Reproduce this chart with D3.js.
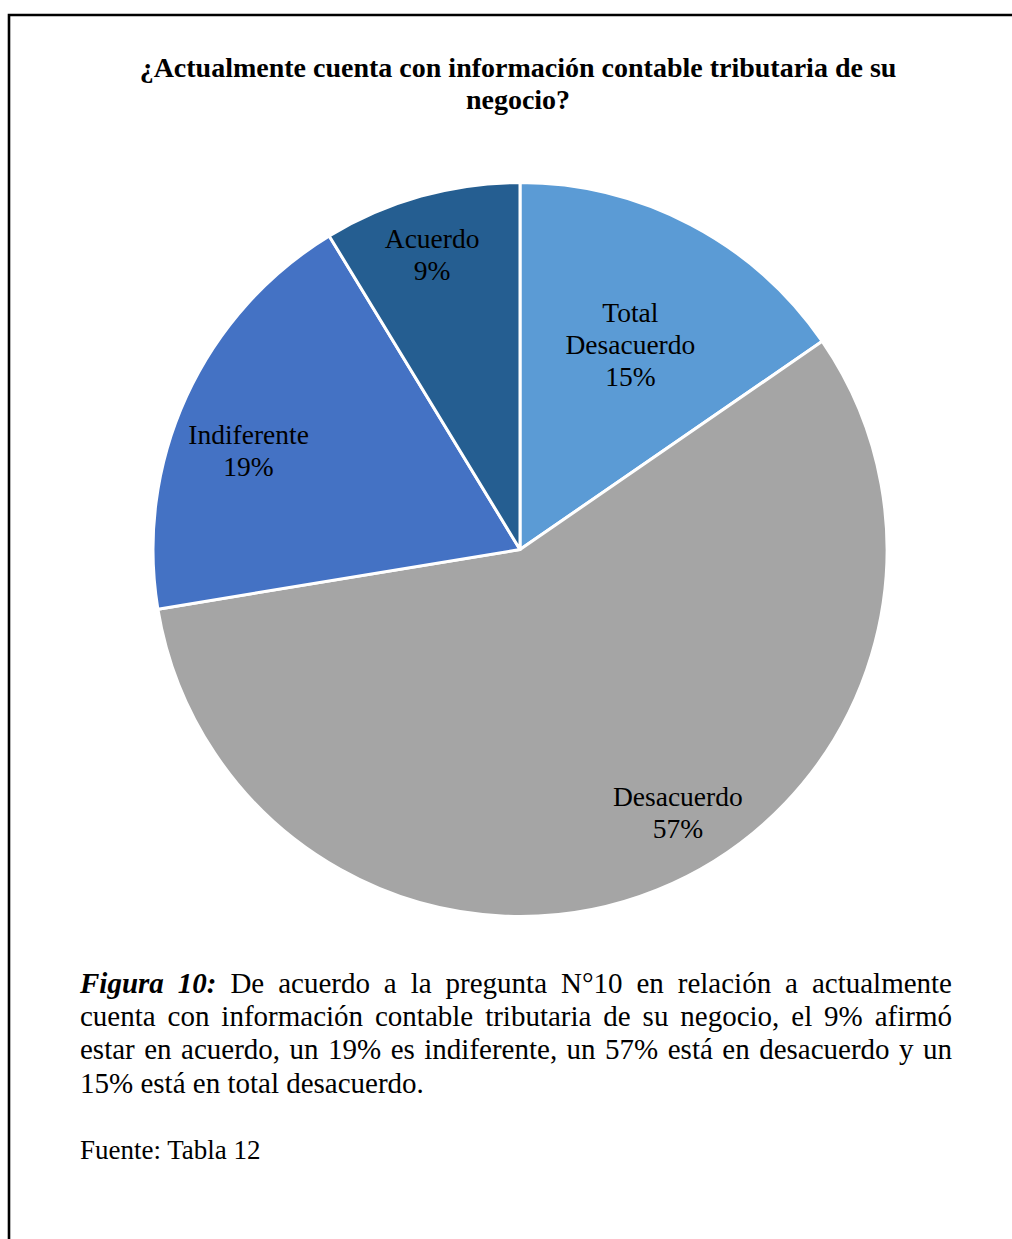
<!DOCTYPE html>
<html>
<head>
<meta charset="utf-8">
<script src="https://cdn.jsdelivr.net/npm/d3@7"></script>
<style>
  html, body { margin: 0; padding: 0; background: #fff; }
  svg { display: block; }
  text { font-family: "Liberation Serif", "Times New Roman", serif; fill: #000; }
</style>
</head>
<body>
<svg id="chart" width="1012" height="1239"></svg>
<script>
// ---- data ----
const categories = ["Total Desacuerdo", "Desacuerdo", "Indiferente", "Acuerdo"];
const values = [15.4, 57.0, 18.9, 8.7];
const colors = ["#5B9BD5", "#A5A5A5", "#4472C4", "#255E91"];
const titleLines = ["¿Actualmente cuenta con información contable tributaria de su", "negocio?"];
const captionLead = "Figura 10:";
const captionText = "De acuerdo a la pregunta N°10 en relación a actualmente cuenta con información contable tributaria de su negocio, el 9% afirmó estar en acuerdo, un 19% es indiferente, un 57% está en desacuerdo y un 15% está en total desacuerdo.";
const sourceText = "Fuente: Tabla 12";

// ---- layout ----
const W = 1012, H = 1239;
const cx = 520, cy = 549.5, R = 367;
// label placement: fraction of radius and angle tweak (degrees) per slice
const labelLayout = [
  { k: 0.634, dAng: 0.6 },
  { k: 0.836, dAng: -9 },
  { k: 0.787, dAng: -4.7 },
  { k: 0.84, dAng: -0.9 }
];

const svg = d3.select("#chart");

// frame
svg.append("path")
  .attr("d", `M9,${H} L9,15 L${W},15`)
  .attr("fill", "none")
  .attr("stroke", "#000")
  .attr("stroke-width", 2.6);

// title
const title = svg.append("text")
  .attr("text-anchor", "middle")
  .attr("font-weight", "bold")
  .attr("font-size", 28);
titleLines.forEach((t, i) => {
  title.append("tspan").attr("x", 518).attr("y", 77 + i * 32).text(t);
});

// pie
const pie = d3.pie().sort(null).value(d => d);
const arcs = pie(values);
const arc = d3.arc().innerRadius(0).outerRadius(R);
const g = svg.append("g").attr("transform", `translate(${cx},${cy})`);

g.selectAll("path.slice")
  .data(arcs)
  .join("path")
  .attr("class", "slice")
  .attr("d", arc)
  .attr("fill", (d, i) => colors[i])
  .attr("stroke", "#fff")
  .attr("stroke-width", 3)
  .attr("stroke-linejoin", "round");

const total = d3.sum(values);
const fmt = v => Math.round(v / total * 100) + "%";

g.selectAll("text.lbl")
  .data(arcs)
  .join("text")
  .attr("class", "lbl")
  .attr("text-anchor", "middle")
  .attr("font-size", 27.5)
  .each(function (d, i) {
    const L = labelLayout[i];
    const a = (d.startAngle + d.endAngle) / 2 + L.dAng * Math.PI / 180;
    const x = Math.sin(a) * R * L.k;
    const y = -Math.cos(a) * R * L.k;
    const words = categories[i] === "Total Desacuerdo" ? ["Total", "Desacuerdo"] : [categories[i]];
    const lines = words.concat([fmt(d.data)]);
    const lh = 32;
    const y0 = y - (lines.length - 1) * lh / 2 + 9.5;
    const t = d3.select(this);
    lines.forEach((ln, j) => {
      t.append("tspan").attr("x", x).attr("y", y0 + j * lh).text(ln);
    });
  });

// caption (justified)
const capX0 = 80, capX1 = 952, capFont = 29, capLH = 33.4, capY0 = 992.5;
const measure = svg.append("text").attr("font-size", capFont).attr("visibility", "hidden");
function wordWidth(w, bold) {
  measure.attr("font-weight", bold ? "bold" : "normal").attr("font-style", bold ? "italic" : "normal").text(w);
  return measure.node().getComputedTextLength();
}
const spaceW = wordWidth("a b") - wordWidth("ab");
const words = captionLead.split(" ").map(w => ({ w, b: true }))
  .concat(captionText.split(" ").map(w => ({ w, b: false })));
words.forEach(o => o.width = wordWidth(o.w, o.b));
const lines = [];
let cur = [], curW = 0;
words.forEach(o => {
  const add = cur.length ? spaceW + o.width : o.width;
  if (curW + add > capX1 - capX0 && cur.length) {
    lines.push(cur); cur = [o]; curW = o.width;
  } else { cur.push(o); curW += add; }
});
if (cur.length) lines.push(cur);
measure.remove();

const cap = svg.append("text").attr("font-size", capFont);
lines.forEach((ln, li) => {
  const last = li === lines.length - 1;
  const sumW = d3.sum(ln, o => o.width);
  const gap = (!last && ln.length > 1) ? (capX1 - capX0 - sumW) / (ln.length - 1) : spaceW;
  let x = capX0;
  ln.forEach(o => {
    cap.append("tspan")
      .attr("x", x)
      .attr("y", capY0 + li * capLH)
      .attr("font-weight", o.b ? "bold" : "normal")
      .attr("font-style", o.b ? "italic" : "normal")
      .text(o.w);
    x += o.width + gap;
  });
});

// source
svg.append("text")
  .attr("x", 80)
  .attr("y", 1159)
  .attr("font-size", 27)
  .text(sourceText);
</script>
</body>
</html>
